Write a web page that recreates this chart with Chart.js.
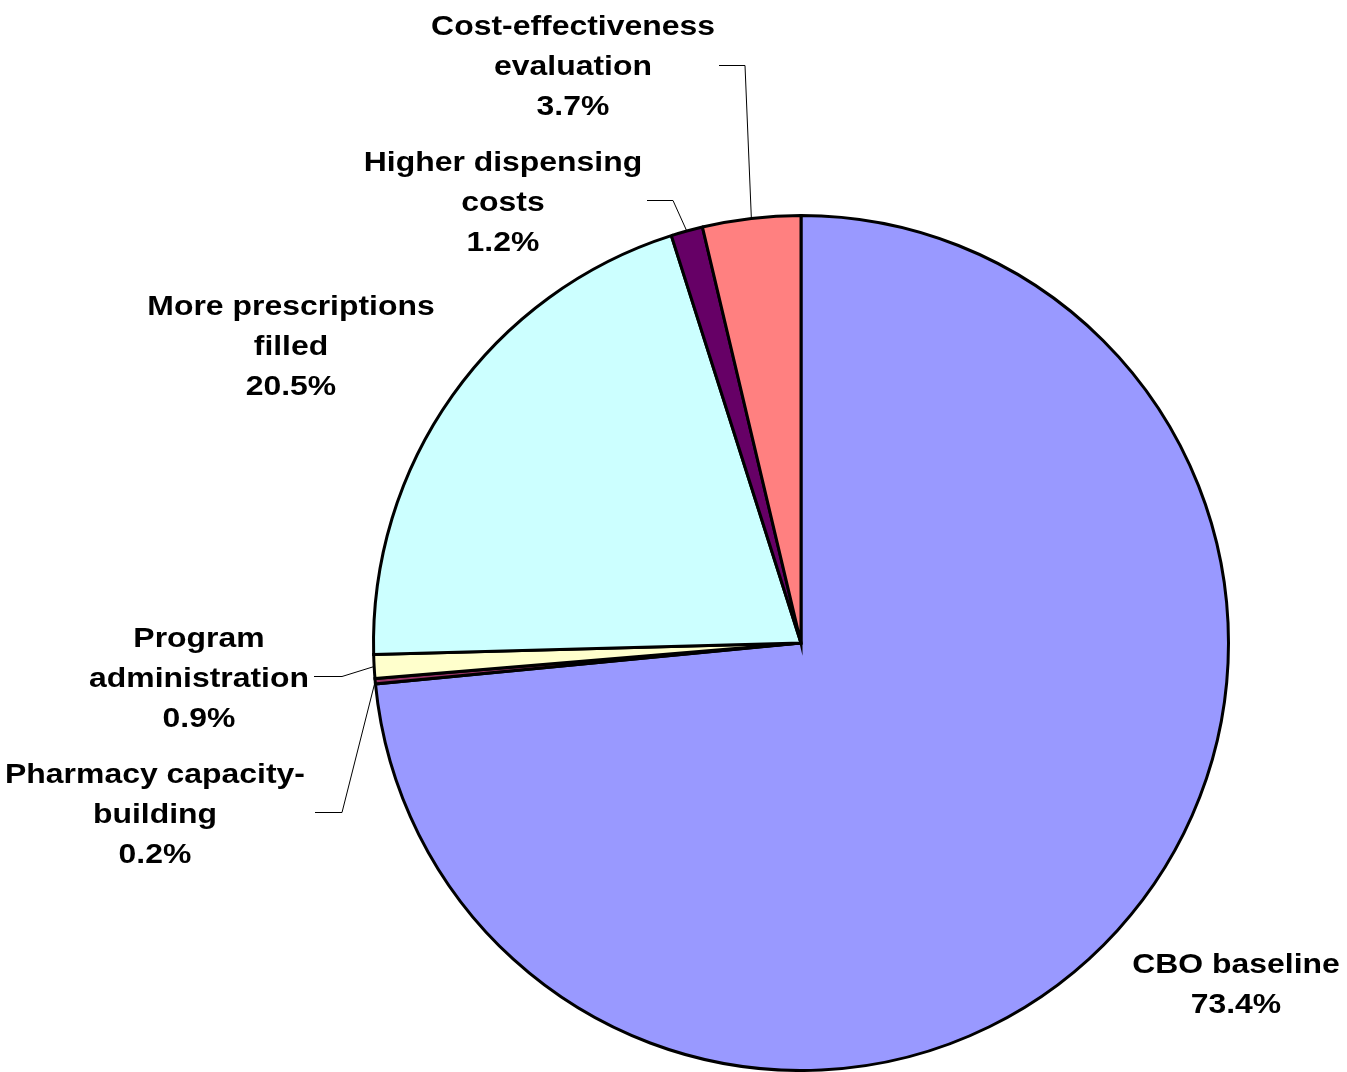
<!DOCTYPE html>
<html>
<head>
<meta charset="utf-8">
<script src="https://cdn.jsdelivr.net/npm/chart.js@4/dist/chart.umd.min.js"></script>
<style>
html,body{margin:0;padding:0;background:#fff;}
#wrap{width:1347px;height:1072px;position:relative;}
</style>
</head>
<body>
<div id="wrap"><canvas id="c"></canvas></div>
<script>
const categories = ["CBO baseline", "Pharmacy capacity-building", "Program administration", "More prescriptions filled", "Higher dispensing costs", "Cost-effectiveness evaluation"];
const labelLines = [["CBO baseline"], ["Pharmacy capacity-", "building"], ["Program", "administration"], ["More prescriptions", "filled"], ["Higher dispensing", "costs"], ["Cost-effectiveness", "evaluation"]];
const values = [73.4, 0.2, 0.9, 20.5, 1.2, 3.7];
const percentLabels = ["73.4%", "0.2%", "0.9%", "20.5%", "1.2%", "3.7%"];
const colors = ["#9999FF", "#993366", "#FFFFCC", "#CCFFFF", "#660066", "#FF8080"];

// label layout: text centre x, first baseline y, leader (start x, elbow x, y) or null
const labelLayout = [
  {x: 1236, y: 973, leader: null},
  {x: 155, y: 783, leader: {x0: 315, x1: 342, y: 812}},
  {x: 199, y: 647, leader: {x0: 314, x1: 342, y: 676}},
  {x: 291, y: 315, leader: null},
  {x: 503, y: 171, leader: {x0: 647, x1: 673, y: 200}},
  {x: 573, y: 35, leader: {x0: 719, x1: 745, y: 65}}
];

const labelPlugin = {
  id: 'pieLabels',
  afterDraw(chart) {
    const ctx = chart.ctx;
    const meta = chart.getDatasetMeta(0);
    const sx = 1.14;
    ctx.save();
    meta.data.forEach((arc, i) => {
      const L = labelLayout[i];
      const lines = labelLines[i].concat([percentLabels[i]]);
      ctx.fillStyle = '#000';
      ctx.font = 'bold 28px "Liberation Sans", Arial, sans-serif';
      ctx.textAlign = 'center';
      ctx.textBaseline = 'alphabetic';
      lines.forEach((t, k) => {
        ctx.save();
        ctx.translate(L.x, L.y + k * 40);
        ctx.scale(sx, 1);
        ctx.fillText(t, 0, 0);
        ctx.restore();
      });
      if (L.leader) {
        const p = arc.getProps(['x','y','startAngle','endAngle','outerRadius'], true);
        const mid = (p.startAngle + p.endAngle) / 2;
        const ex = p.x + Math.cos(mid) * p.outerRadius;
        const ey = p.y + Math.sin(mid) * p.outerRadius;
        ctx.strokeStyle = '#000';
        ctx.lineWidth = 1;
        ctx.beginPath();
        ctx.moveTo(L.leader.x0, L.leader.y + 0.5);
        ctx.lineTo(L.leader.x1, L.leader.y + 0.5);
        ctx.lineTo(ex, ey);
        ctx.stroke();
      }
    });
    ctx.restore();
  }
};

new Chart(document.getElementById('c'), {
  type: 'pie',
  data: {
    labels: categories,
    datasets: [{
      data: values,
      backgroundColor: colors,
      borderColor: '#000',
      borderWidth: 3,
      borderJoinStyle: 'miter'
    }]
  },
  options: {
    responsive: true,
    maintainAspectRatio: false,
    animation: false,
    layout: {padding: {top: 214, bottom: 0, left: 255, right: 0}},
    plugins: {legend: {display: false}, tooltip: {enabled: false}}
  },
  plugins: [labelPlugin]
});
</script>
</body>
</html>
